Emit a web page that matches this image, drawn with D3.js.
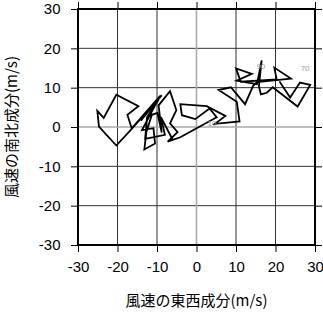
<!DOCTYPE html>
<html><head><meta charset="utf-8">
<script src="https://cdn.jsdelivr.net/npm/d3@7"></script>
<style>body{margin:0;background:#fff}svg{display:block}</style>
</head><body>
<svg id="c" width="323" height="313"></svg>
<script>
const uWind = [21.0,23.7,26.2,28.8,25.6,19.3,17.8,16.3,15.8,16.5,15.3,10.2,14.0,10.0,11.2,20.3,19.7,23.9,15.3,14.3,12.3,8.7,5.6,10.2,10.9,4.7,7.3,2.6,-4.1,-3.7,-0.3,3.3,5.1,-4.1,-7.3,-4.8,-6.7,-5.1,-6.7,-9.6,-8.8,-9.9,-11.3,-12.7,-13.2,-10.5,-10.9,-13.8,-9.2,-15.4,-9.9,-14.1,-8.8,-16.8,-20.3,-24.7,-25.1,-23.5,-20.3,-14.7,-17.5,-16.4,-9.6,-12.5,-13.0,-8.0,-9.0,-6.0];
const vWind = [11.6,7.5,11.3,10.7,5.2,10.1,8.7,8.3,10.4,16.9,10.9,11.8,13.5,14.9,11.5,12.1,15.1,12.3,11.4,10.4,5.8,10.1,9.4,6.4,1.4,0.8,2.8,5.3,5.8,3.0,2.0,4.7,2.5,-2.6,-3.7,-1.3,0.9,4.3,9.1,5.5,-1.4,3.6,3.1,-1.3,-5.7,-4.2,-0.3,-0.8,7.9,0.8,7.0,1.6,8.1,-0.9,-4.7,0.1,4.1,2.3,8.2,5.3,3.1,-0.3,6.9,2.5,-3.0,-2.0,2.5,-3.3];
const pointLabels = ["10","90","70"];
const labelU = [3.9,16.3,27.5];
const labelV = [0.9,15.3,14.7];
const ticks = [-30,-20,-10,0,10,20,30];
const xTitle = "風速の東西成分(m/s)";
const yTitle = "風速の南北成分(m/s)";

const svg = d3.select("#c");
const L=78,R=315,T=9,B=245;
const x = d3.scaleLinear().domain([-30,30]).range([L,R]);
const y = d3.scaleLinear().domain([-30,30]).range([B,T]);
const font = "'Liberation Sans', Arial, sans-serif";
const fmt = d => String(d);

// grid
const g = svg.append("g");
const inner = ticks.filter(t=>t!==0 && Math.abs(t)!==30);
g.selectAll(".gx").data(inner).join("line")
  .attr("x1",d=>x(d)).attr("x2",d=>x(d)).attr("y1",T).attr("y2",B)
  .attr("stroke","#333").attr("stroke-width",1);
g.selectAll(".gy").data(inner).join("line")
  .attr("y1",d=>y(d)).attr("y2",d=>y(d)).attr("x1",L).attr("x2",R)
  .attr("stroke","#333").attr("stroke-width",1);
// zero lines
g.append("line").attr("x1",x(0)).attr("x2",x(0)).attr("y1",T).attr("y2",B).attr("stroke","#aaa").attr("stroke-width",1.6);
g.append("line").attr("y1",y(0)).attr("y2",y(0)).attr("x1",L).attr("x2",R).attr("stroke","#aaa").attr("stroke-width",1.6);

// axes
const tl = 7;
svg.append("g").attr("transform",`translate(0,${B})`)
  .call(d3.axisBottom(x).tickValues(ticks).tickSize(tl).tickFormat(fmt))
  .call(a=>{a.select(".domain").remove();a.selectAll("line").attr("stroke","#000");a.selectAll("text").attr("font-family",font).attr("font-size",15).attr("fill","#000").attr("dy","1.1em");});
svg.append("g").attr("transform",`translate(${L},0)`)
  .call(d3.axisLeft(y).tickValues(ticks).tickSize(tl).tickFormat(fmt))
  .call(a=>{a.select(".domain").remove();a.selectAll("line").attr("stroke","#000");a.selectAll("text").attr("font-family",font).attr("font-size",15).attr("fill","#000").attr("dx","-0.5em");});
svg.append("g").attr("transform",`translate(0,${T})`)
  .call(d3.axisTop(x).tickValues(ticks).tickSize(tl).tickFormat(""))
  .call(a=>{a.select(".domain").remove();a.selectAll("line").attr("stroke","#000");});
svg.append("g").attr("transform",`translate(${R},0)`)
  .call(d3.axisRight(y).tickValues(ticks).tickSize(tl).tickFormat(""))
  .call(a=>{a.select(".domain").remove();a.selectAll("line").attr("stroke","#000");});

// path
const pts = uWind.map((u,i)=>[u,vWind[i]]);
svg.append("path").datum(pts)
  .attr("d",d3.line().x(d=>x(d[0])).y(d=>y(d[1])))
  .attr("fill","none").attr("stroke","#000").attr("stroke-width",1.8).attr("stroke-linejoin","miter");

svg.selectAll(".pl").data(pointLabels).join("text")
  .attr("x",(d,i)=>x(labelU[i])).attr("y",(d,i)=>y(labelV[i]))
  .attr("text-anchor","middle").attr("dominant-baseline","middle")
  .attr("font-family",font).attr("font-size",8).attr("fill","#999").text(d=>d);

// frame
svg.append("rect").attr("x",L).attr("y",T).attr("width",R-L).attr("height",B-T)
  .attr("fill","none").attr("stroke","#000").attr("stroke-width",2);

// titles
svg.append("text").attr("x",(L+R)/2).attr("y",302).attr("text-anchor","middle").attr("dominant-baseline","middle")
  .attr("font-family","'Noto Sans CJK JP', sans-serif").attr("font-size",15).text(xTitle);
svg.append("text").attr("transform",`translate(13,${(T+B)/2}) rotate(-90)`).attr("text-anchor","middle").attr("dominant-baseline","middle")
  .attr("font-family","'Noto Sans CJK JP', sans-serif").attr("font-size",15).text(yTitle);
</script>
</body></html>
